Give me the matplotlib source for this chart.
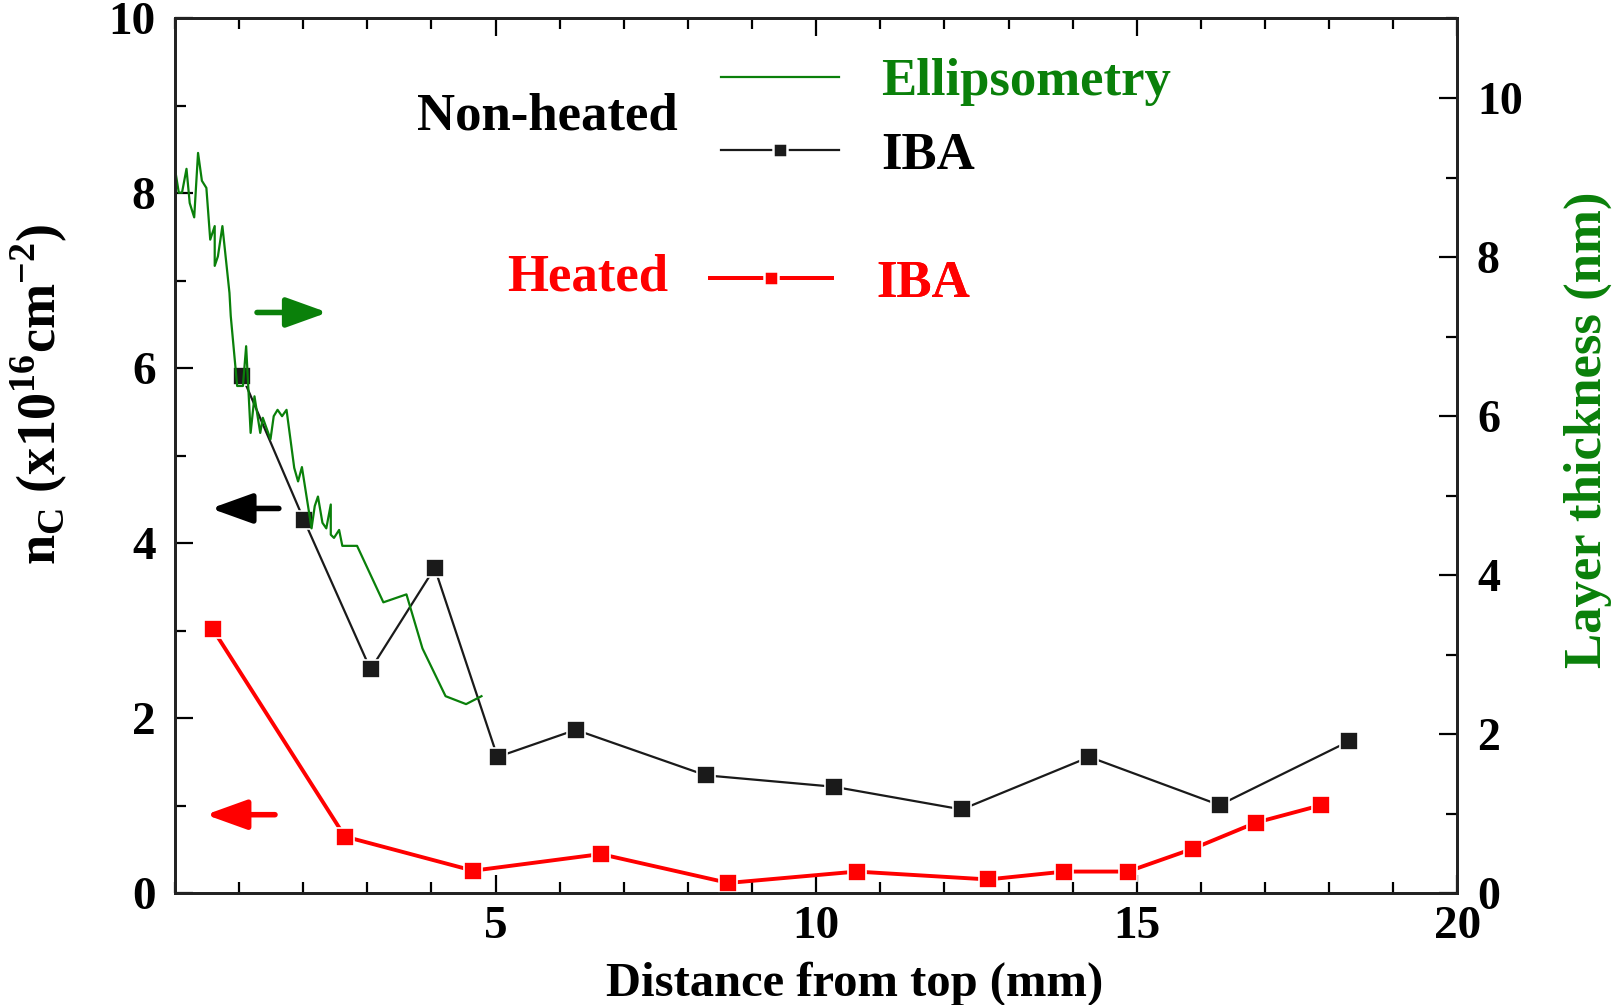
import numpy as np
import matplotlib.pyplot as plt
from matplotlib.lines import Line2D
from matplotlib.ticker import MultipleLocator

plt.rcParams['font.family'] = ['Liberation Serif', 'DejaVu Serif']
plt.rcParams['font.weight'] = 'bold'
plt.rcParams['mathtext.fontset'] = 'custom'
plt.rcParams['mathtext.rm'] = 'Liberation Serif:bold'
plt.rcParams['mathtext.bf'] = 'Liberation Serif:bold'

# IBA, non-heated sample
x_nonheated = [1.05, 2.01, 3.05, 4.05, 5.03, 6.25, 8.28, 10.27, 12.27, 14.26, 16.29, 18.31]
nc_nonheated = [5.91, 4.27, 2.56, 3.72, 1.56, 1.87, 1.35, 1.22, 0.96, 1.56, 1.01, 1.74]

# IBA, heated sample
x_heated = [0.59, 2.65, 4.65, 6.64, 8.63, 10.63, 12.68, 13.87, 14.86, 15.87, 16.86, 17.88]
nc_heated = [3.02, 0.65, 0.26, 0.45, 0.12, 0.25, 0.16, 0.25, 0.25, 0.51, 0.81, 1.01]

# ellipsometry layer thickness (nm), non-heated
x_ell = [0.0, 0.06, 0.11, 0.18, 0.23, 0.30, 0.36, 0.42, 0.49, 0.55, 0.62, 0.62, 0.67,
         0.74, 0.85, 0.87, 0.97, 1.06, 1.11, 1.14, 1.18, 1.24, 1.33, 1.37, 1.49, 1.54,
         1.60, 1.67, 1.74, 1.86, 1.92, 1.98, 2.13, 2.18, 2.23, 2.30, 2.36, 2.43, 2.43,
         2.48, 2.56, 2.61, 2.84, 3.25, 3.61, 3.86, 4.22, 4.54, 4.78]
thick_ell = [9.11, 8.81, 8.81, 9.11, 8.68, 8.50, 9.31, 8.96, 8.87, 8.22, 8.39, 7.89, 8.01,
             8.39, 7.55, 7.26, 6.38, 6.38, 6.88, 6.42, 5.79, 6.25, 5.79, 5.98, 5.71, 6.00,
             6.08, 6.00, 6.08, 5.35, 5.18, 5.36, 4.59, 4.87, 4.99, 4.66, 4.59, 4.89, 4.51,
             4.47, 4.57, 4.37, 4.37, 3.66, 3.76, 3.08, 2.48, 2.38, 2.48]

green = '#0a800a'
red = '#ff0000'
black = '#1a1a1a'

fig = plt.figure(figsize=(16.14, 10.05), dpi=100)
ax = fig.add_axes([0.1084, 0.111, 0.7946, 0.8706])
ax2 = ax.twinx()

ax.plot(x_nonheated, nc_nonheated, color=black, lw=1.6, marker='s', ms=13,
        mec='white', mew=1.2, zorder=4)
ax.plot(x_heated, nc_heated, color=red, lw=2.8, marker='s', ms=13,
        mec='white', mew=1.2, zorder=4)
ax2.plot(x_ell, thick_ell, color=green, lw=1.6)

ax.set_xlim(0, 20)
ax.set_ylim(0, 10)
ax2.set_ylim(0, 11)

ax.set_xticks([5, 10, 15, 20])
ax.xaxis.set_minor_locator(MultipleLocator(1))
ax.yaxis.set_major_locator(MultipleLocator(2))
ax.yaxis.set_minor_locator(MultipleLocator(1))
ax2.yaxis.set_major_locator(MultipleLocator(2))
ax2.yaxis.set_minor_locator(MultipleLocator(1))

ax.tick_params(axis='x', which='both', direction='in', top=True, labelsize=34, pad=9)
ax.tick_params(axis='y', which='both', direction='in', labelsize=34, pad=14)
ax.tick_params(which='major', length=13, width=1.6)
ax.tick_params(which='minor', length=8, width=1.6)
ax2.tick_params(axis='y', which='both', direction='in', labelsize=33, pad=14)
ax2.tick_params(which='major', length=13, width=1.6)
ax2.tick_params(which='minor', length=8, width=1.6)
ax2.set_yticks([0, 2, 4, 6, 8, 10])
for a in (ax, ax2):
    for s in a.spines.values():
        s.set_linewidth(2)
        s.set_color('#222222')

ax.set_xlabel('Distance from top (mm)', fontsize=35, fontweight='bold')
ax.xaxis.set_label_coords(0.53, -0.078)
ax.set_ylabel(r'n$_\mathregular{C}$ (x10$^\mathregular{16}$cm$^\mathregular{-2}$)',
              fontsize=39, fontweight='bold')
ax.yaxis.set_label_coords(-0.083, 0.57)
ax2.set_ylabel('Layer thickness (nm)', fontsize=38, fontweight='bold', color=green)
ax2.yaxis.set_label_coords(1.083, 0.53)

# arrows pointing to the relevant axis
arrow_style = '-|>,head_length=1.0,head_width=0.36'
ax.annotate('', xy=(0.119, 0.664), xytext=(0.064, 0.664), xycoords='axes fraction',
            arrowprops=dict(arrowstyle=arrow_style, color=green, lw=4,
                            mutation_scale=25, shrinkA=0, shrinkB=0))
ax.annotate('', xy=(0.028, 0.440), xytext=(0.081, 0.440), xycoords='axes fraction',
            arrowprops=dict(arrowstyle=arrow_style, color='black', lw=4,
                            mutation_scale=25, shrinkA=0, shrinkB=0))
ax.annotate('', xy=(0.024, 0.090), xytext=(0.078, 0.090), xycoords='axes fraction',
            arrowprops=dict(arrowstyle=arrow_style, color=red, lw=4,
                            mutation_scale=25, shrinkA=0, shrinkB=0))

# custom legend, one entry per row
h_ell = Line2D([], [], color=green, lw=1.6)
h_nh = Line2D([], [], color=black, lw=1.6, marker='s', ms=10, mec='white', mew=1.8)
h_h = Line2D([], [], color=red, lw=2.8, marker='s', ms=10, mec='white', mew=1.8)

legend_rows = [(h_ell, 'Ellipsometry', green, 0.4254, 0.927, 2.24, 0.8),
               (h_nh, 'IBA', 'black', 0.4254, 0.843, 2.24, 0.8),
               (h_h, 'IBA', red, 0.4173, 0.697, 2.3, 0.85)]
for handle, label, col, lx, ly, hl, hp in legend_rows:
    lg = ax.legend([handle], [label], loc='center left', bbox_to_anchor=(lx, ly),
                   frameon=False, borderpad=0, borderaxespad=0,
                   handlelength=hl, handletextpad=hp,
                   labelcolor=[col], prop={'weight': 'bold', 'size': 38})
    ax.add_artist(lg)

ax.text(0.189, 0.888, 'Non-heated', transform=ax.transAxes, fontsize=38,
        fontweight='bold', va='center')
ax.text(0.259, 0.704, 'Heated', transform=ax.transAxes, fontsize=38,
        fontweight='bold', color=red, va='center')

fig.savefig('out.png', dpi=100)
